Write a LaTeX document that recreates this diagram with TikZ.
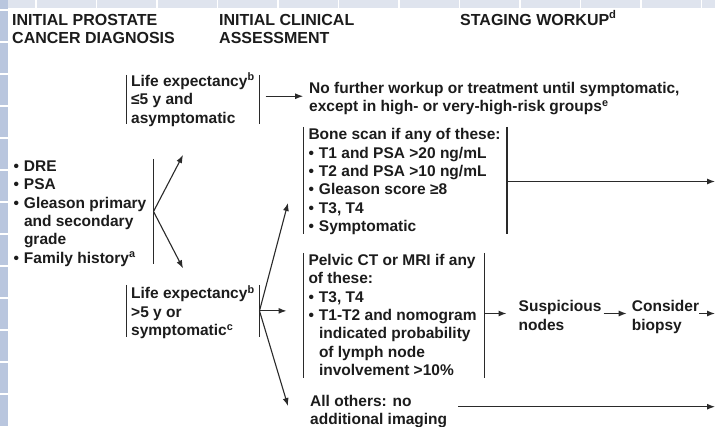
\documentclass[tikz,border=0pt]{standalone}
\usepackage{fontspec}
\setmainfont{Liberation Sans}
\usetikzlibrary{arrows.meta,fit}
\definecolor{ink}{HTML}{1C1C1C}
\definecolor{lineink}{HTML}{2A2A2A}
\definecolor{stripA}{HTML}{DFE4EE}
\definecolor{stripB}{HTML}{B9C6DE}
\newcommand\fl{\rule{0pt}{16pt}}
\newcommand\bul{\makebox[10.5pt][l]{•}}
\newcommand\ind{\hspace*{10.5pt}}
\begin{document}
\begin{tikzpicture}[x=1pt,y=-1pt,
  txt/.style={inner sep=0pt, anchor=north west, align=left, text=ink,
    font=\fontsize{15.5}{18.4}\selectfont\bfseries},
  hdr/.style={txt, font=\fontsize{16}{18.3}\selectfont\bfseries},
  area/.style={inner sep=0pt, draw=none},
  bar/.style={draw=lineink, line width=1.2pt},
  arr/.style={draw=lineink, line width=1.1pt, -{Latex[length=8pt,width=6pt]}}]
\useasboundingbox (0,0) rectangle (715,426);
% background
\fill[white] (0,0) rectangle (715,426);
\fill[stripA] (0,0) rectangle (715,8);
\fill[stripB] (0,0) rectangle (8,426);
\foreach \x in {36,96.5,...,702} \draw[white,line width=1.5pt] (\x,0) -- (\x,8);
\foreach \y in {10,42,...,394} \draw[white,line width=1.5pt] (0,\y) -- (8,\y);
% headers
\node[hdr] (h1) at (12,9) {\fl INITIAL PROSTATE\\CANCER DIAGNOSIS};
\node[hdr] (h2) at (219,9) {\fl INITIAL CLINICAL\\ASSESSMENT};
\node[hdr] (h3) at (460,9) {\fl STAGING WORKUP\textsuperscript{d}};
% boxes (bar extents)
\node[area, fit={(127,75) (259.3,123.5)}] (le5) {};
\node[area, fit={(13,159) (153.3,264)}] (list) {};
\node[area, fit={(303.3,127) (506.7,234)}] (bone) {};
\node[area, fit={(303.3,253) (484,378)}] (pelvic) {};
\node[area, fit={(127,285) (259.3,336.7)}] (gt5) {};
% texts
\node[txt] (le5t) at (131,70) {\fl Life expectancy\textsuperscript{b}\\≤5 y and\\asymptomatic};
\node[txt] (nofurther) at (309,77) {\fl No further workup or treatment until symptomatic,\\except in high- or very-high-risk groups\textsuperscript{e}};
\node[txt] (listt) at (13.3,155) {\fl\bul DRE\\\bul PSA\\\bul Gleason primary\\\ind and secondary\\\ind grade\\\bul Family history\textsuperscript{a}};
\node[txt] (bonet) at (308.3,123.5) {\fl Bone scan if any of these:\\\bul T1 and PSA >20 ng/mL\\\bul T2 and PSA >10 ng/mL\\\bul Gleason score ≥8\\\bul T3, T4\\\bul Symptomatic};
\node[txt] (pelvict) at (308.3,249) {\fl Pelvic CT or MRI if any\\of these:\\\bul T3, T4\\\bul T1-T2 and nomogram\\\ind indicated probability\\\ind of lymph node\\\ind involvement >10\%};
\node[txt] (gt5t) at (131,282.5) {\fl Life expectancy\textsuperscript{b}\\>5 y or\\symptomatic\textsuperscript{c}};
\node[txt] (susp) at (518.5,295.7) {\fl Suspicious\\nodes};
\node[txt] (cons) at (631.7,295.7) {\fl Consider\\biopsy};
\node[txt] (others) at (310,390) {\fl All others: no\\additional imaging};
% bars
\draw[bar] (le5.north west) -- (le5.south west) (le5.north east) -- (le5.south east);
\draw[bar] (list.north east) -- (list.south east);
\draw[bar] (bone.north west) -- (bone.south west) (bone.north east) -- (bone.south east);
\draw[bar] (pelvic.north west) -- (pelvic.south west) (pelvic.north east) -- (pelvic.south east);
\draw[bar] (gt5.north west) -- (gt5.south west) (gt5.north east) -- (gt5.south east);
% helper coordinates
\coordinate (eR) at (715,0);
\coordinate (row) at (0,313.5);
\coordinate (orow) at (0,406.7);
\coordinate (up1) at (183,155);
\coordinate (down1) at (183,268.3);
\coordinate (g5up) at (288,203);
\coordinate (g5down) at (288,406);
% connectors
\draw[arr] (list.east) -- (up1);
\draw[arr] (list.east) -- (down1);
\draw[arr] ([xshift=6pt,yshift=3pt]le5.east) -- ([yshift=3pt]le5.east -| bone.west);
\draw[arr] ([yshift=-1pt]bone.east) -- ([yshift=-1pt]bone.east -| eR);
\draw[arr] (gt5.east) -- (g5up);
\draw[arr] (gt5.east) -- ++(27,0);
\draw[arr] (gt5.east) -- (g5down);
\draw[arr] (pelvic.east |- row) -- ([xshift=-12pt]susp.west |- row);
\draw[arr] ([xshift=2pt]susp.east |- row) -- ([xshift=-5pt]cons.west |- row);
\draw[arr] (cons.east |- row) -- (eR |- row);
\draw[arr] ([xshift=11pt]others.east |- orow) -- (eR |- orow);
\end{tikzpicture}
\end{document}
